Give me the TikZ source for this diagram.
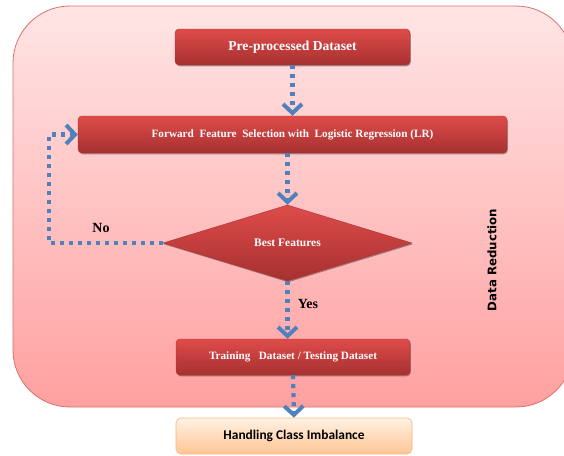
\documentclass[tikz,border=0pt]{standalone}
\usepackage{fontspec}
\setmainfont{Liberation Serif}
\newfontfamily\boxsans{Carlito}
\newfontfamily\sidesans{DejaVu Sans}
\usetikzlibrary{arrows.meta,shapes.geometric,shadows}

\definecolor{panelTop}{RGB}{255,229,229}
\definecolor{panelBot}{RGB}{255,160,160}
\definecolor{panelLine}{RGB}{218,112,108}
\definecolor{redTop}{RGB}{222,76,74}
\definecolor{redBot}{RGB}{166,48,48}
\definecolor{redLine}{RGB}{170,50,50}
\definecolor{flowBlue}{RGB}{79,129,189}
\definecolor{orTop}{RGB}{255,241,228}
\definecolor{orBot}{RGB}{255,197,148}
\definecolor{orLine}{RGB}{246,182,124}

\begin{document}
\begin{tikzpicture}[x=1pt,y=-1pt,
  softshadow/.style={drop shadow={shadow xshift=0.8pt,shadow yshift=-1.3pt,opacity=0.35,fill=black}},
  redbox/.style={rectangle, rounded corners=4pt, top color=redTop, bottom color=redBot,
    draw=redLine, line width=0.4pt, text=white, inner sep=0pt, softshadow,
    font=\bfseries\fontsize{11.2}{13}\selectfont},
  decision/.style={diamond, inner sep=0pt, aspect=3, top color=redTop, bottom color=redBot,
    draw=redLine, line width=0.4pt, text=white, softshadow,
    font=\bfseries\fontsize{11.5}{13}\selectfont},
  orbox/.style={rectangle, rounded corners=5pt, top color=orTop, bottom color=orBot,
    draw=orLine, line width=0.6pt, text=black, inner sep=0pt,
    font=\boxsans\bfseries\fontsize{13.4}{15}\selectfont},
  flow/.style={draw=flowBlue, line width=4.2pt, dash pattern=on 4pt off 5pt,
    -{Straight Barb[length=9pt,width=19pt,line width=4pt]}},
  tag/.style={font=\bfseries\fontsize{14}{16}\selectfont, text=black, inner sep=1pt}
]
\useasboundingbox (0,0) rectangle (564,455);
\clip (0,0) rectangle (564,455);

% background panel
\draw[panelLine, line width=0.8pt, top color=panelTop, bottom color=panelBot,
      rounded corners=57pt] (13,6) rectangle (573,407);

% process steps
\node[redbox, minimum width=235pt, minimum height=36pt] (pre) at (292.5,47)
  {\fontsize{13.6}{15}\selectfont Pre-processed Dataset};
\node[redbox, minimum width=429pt, minimum height=37pt] (ffs) at (292.5,134.5)
  {Forward\ \ Feature\ \ Selection with\ \ Logistic Regression (LR)};
\node[decision, minimum width=249pt, minimum height=76pt] (best) at (287.5,243)
  {Best Features};
\node[redbox, minimum width=234pt, minimum height=36pt] (train) at (293,357)
  {Training\ \ \ Dataset / Testing Dataset};
\node[orbox, minimum width=236pt, minimum height=36pt] (hci) at (294,436)
  {Handling Class Imbalance};

% side caption
\node[rotate=90, font=\sidesans\bfseries\fontsize{11.8}{13}\selectfont] (side) at (492,260)
  {Data Reduction};

% connectors
\coordinate (bend) at (49,0);
\draw[flow] (pre.south) -- (ffs.north);
\draw[flow] (ffs.south -| best.north) -- (best.north);
\draw[flow] (best.west) -| (bend |- ffs.west) -- (ffs.west);
\draw[flow] (best.south) -- (best.south |- train.north);
\draw[flow] (train.south) -- (hci.north);

% branch labels
\node[tag] (nolab) at (101,228) {No};
\node[tag] (yeslab) at (308,304) {Yes};
\end{tikzpicture}
\end{document}
